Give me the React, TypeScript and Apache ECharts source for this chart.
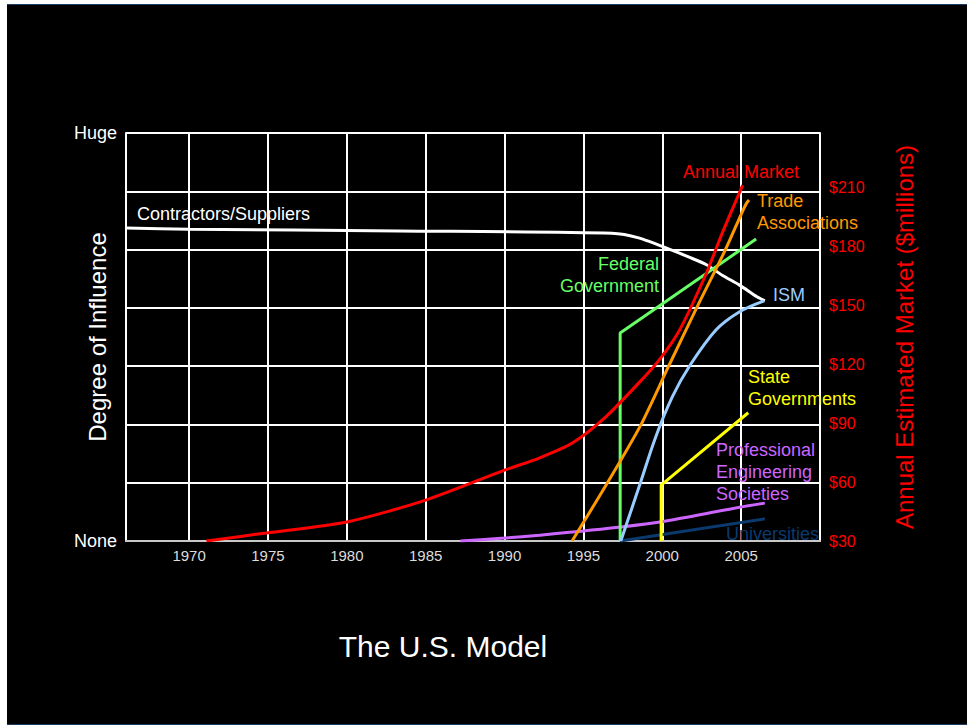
import React, { useEffect, useRef } from "react";
import * as echarts from "echarts";

const xTicks = [1970, 1975, 1980, 1985, 1990, 1995, 2000, 2005];
const rightTicks = [30, 60, 90, 120, 150, 180, 210];

const contractors = [[1966, 5.37], [1970, 5.35], [1983.3, 5.32], [1996.8, 5.28], [1998.5, 5.2], [2000.6, 4.99], [2001.7, 4.87], [2002.8, 4.74], [2003.8, 4.56], [2004.9, 4.39], [2006.0, 4.19], [2006.5, 4.12]];
const annualMarket = [[1971.1, 30], [1974.9, 34.1], [1980, 39.7], [1985, 50.8], [1990, 66], [1992.2, 72.2], [1994.3, 79.8], [1996.4, 93], [1998.5, 110.3], [1999.8, 122], [2001.1, 137.3], [2002.8, 166.3], [2003.8, 186.6], [2005.1, 211]];
const tradeAssoc = [[1994.28, 0], [1996.44, 0.96], [1998.6, 1.97], [2000.44, 3.02], [2002.27, 4.05], [2003.99, 4.99], [2005.06, 5.64], [2005.35, 5.8], [2005.5, 5.85]];
const federal = [[1997.33, 0], [1997.33, 3.57], [2005.95, 5.18]];
const ism = [[1997.37, 0], [1998.53, 0.93], [1999.59, 1.79], [2000.65, 2.48], [2001.7, 2.99], [2003.4, 3.62], [2004.88, 3.93], [2006.46, 4.12]];
const stateGov = [[1999.93, 0], [1999.93, 0.96], [2005.45, 2.2]];
const profEng = [[1987.2, 0], [1990, 0.05], [1992.2, 0.1], [1997.4, 0.24], [2000.6, 0.36], [2004.9, 0.58], [2006.5, 0.65]];
const universities = [[1997.33, 0], [2006.5, 0.38]];

const FONT = "'Liberation Sans', Arial, sans-serif";

export default function App() {
  const ref = useRef<HTMLDivElement>(null);
  useEffect(() => {
    if (!ref.current) return;
    const chart = echarts.init(ref.current, null, { renderer: "svg" });
    const line = (name: string, data: number[][], color: string, smooth: number, yAxisIndex = 0, z = 3) => ({
      name,
      type: "line",
      data,
      yAxisIndex,
      showSymbol: false,
      smooth: smooth > 0 ? smooth : false,
      lineStyle: { color, width: 3 },
      z,
      silent: true,
    });
    const txt = (text: string, x: number, y: number, color: string, align = "left", vAlign = "middle", size = 18) => ({
      type: "text",
      x,
      y,
      z: 10,
      style: { text, fill: color, fontSize: size, fontFamily: FONT, textAlign: align, textVerticalAlign: vAlign, lineHeight: 22 },
    });
    chart.setOption({
      animation: false,
      backgroundColor: "#000",
      textStyle: { fontFamily: FONT },
      grid: { left: 119, top: 128, right: 147, bottom: 183 },
      xAxis: {
        type: "value",
        min: 1966,
        max: 2010,
        axisLine: { show: true, lineStyle: { color: "#c8c8c8", width: 2 } },
        axisTick: { show: false, customValues: xTicks },
        axisLabel: { customValues: xTicks, color: "#dddddd", fontSize: 15, margin: 7, fontFamily: FONT, formatter: (v: number) => String(v) },
        splitLine: { show: true, lineStyle: { color: "#ffffff", width: 2 } },
      },
      yAxis: [
        {
          type: "value",
          min: 0,
          max: 7,
          interval: 1,
          name: "Degree of Influence",
          nameLocation: "middle",
          nameRotate: 90,
          nameGap: 17,
          nameMoveOverlap: false,
          nameTextStyle: { color: "#ffffff", fontSize: 24, fontFamily: FONT },
          axisLine: { show: true, lineStyle: { color: "#ffffff", width: 2 } },
          axisTick: { show: false },
          axisLabel: {
            color: "#ffffff",
            fontSize: 18,
            margin: 9,
            fontFamily: FONT,
            formatter: (v: number) => (v === 7 ? "Huge" : v === 0 ? "None" : ""),
          },
          splitLine: { show: true, lineStyle: { color: "#ffffff", width: 2 } },
        },
        {
          type: "value",
          min: 30,
          max: 237.5,
          interval: 30,
          position: "right",
          name: "Annual Estimated Market ($millions)",
          nameLocation: "middle",
          nameRotate: 90,
          nameGap: 72,
          nameTextStyle: { color: "#ff0000", fontSize: 24, fontFamily: FONT },
          axisLine: { show: true, lineStyle: { color: "#ffffff", width: 2 } },
          axisTick: { show: false },
          axisLabel: {
            color: "#ff0000",
            fontSize: 16,
            margin: 9,
            fontFamily: FONT,
            formatter: (v: number) => (rightTicks.indexOf(v) >= 0 ? "$" + v : ""),
          },
          splitLine: { show: false },
        },
      ],
      series: [
        line("Contractors/Suppliers", contractors, "#ffffff", 0.25),
        line("Universities", universities, "#0a3a6e", 0),
        line("Professional Engineering Societies", profEng, "#cc66ff", 0.25),
        line("State Governments", stateGov, "#ffff00", 0),
        line("Federal Government", federal, "#66ff66", 0),
        line("ISM", ism, "#99ccff", 0.35),
        line("Trade Associations", tradeAssoc, "#ff9900", 0.25),
        line("Annual Market", annualMarket, "#ff0000", 0.25, 1, 4),
      ],
      graphic: [
        txt("Contractors/Suppliers", 130, 209, "#ffffff"),
        txt("Annual Market", 676, 167, "#ff0000"),
        txt("Trade\nAssociations", 750, 185, "#ff9900", "left", "top"),
        txt("Federal\nGovernment", 652, 248, "#66ff66", "right", "top"),
        txt("ISM", 766, 290, "#99ccff"),
        txt("State\nGovernments", 741, 361, "#ffff00", "left", "top"),
        txt("Professional\nEngineering\nSocieties", 709, 434, "#cc66ff", "left", "top"),
        txt("Universities", 719, 529, "#0a3a6e"),
        txt("The U.S. Model", 436, 641, "#ffffff", "center", "middle", 30),
      ],
    });
    return () => chart.dispose();
  }, []);
  return (
    <div
      style={{
        position: "absolute",
        left: 7,
        top: 4,
        width: 960,
        height: 721,
        boxSizing: "border-box",
        background: "#000",
        borderTop: "1px solid #173c66",
        borderBottom: "1px solid #173c66",
      }}
    >
      <div ref={ref} style={{ width: 960, height: 719 }} />
    </div>
  );
}
